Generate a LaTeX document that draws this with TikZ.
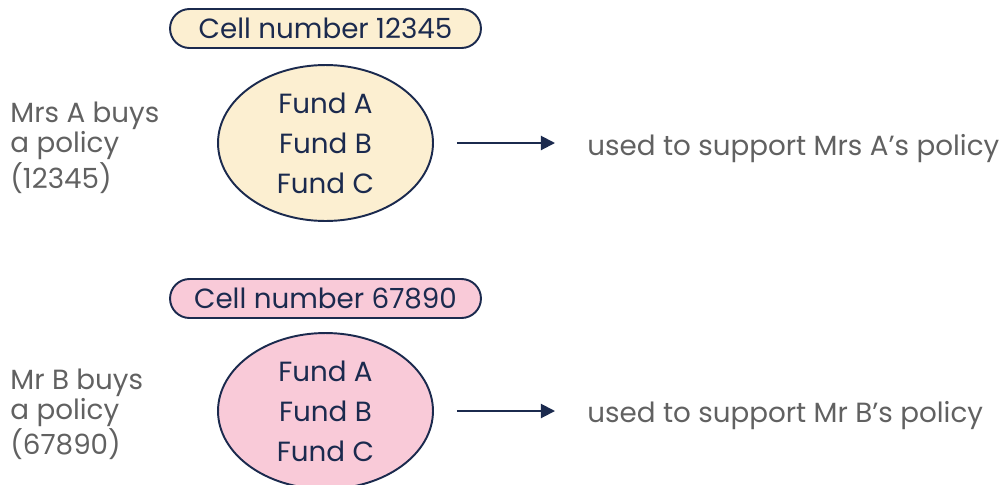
\documentclass[tikz,border=0pt]{standalone}
\usepackage{fontspec}
\setmainfont{Poppins}
\usetikzlibrary{arrows.meta,shapes.geometric}
\definecolor{navy}{HTML}{1B2A4E}
\definecolor{cream}{HTML}{FCEFD1}
\definecolor{pinkf}{HTML}{F9CAD8}
\definecolor{greytxt}{HTML}{616161}
\begin{document}
\begin{tikzpicture}[x=0.02cm,y=-0.02cm,
  txt/.style={font=\fontsize{15.8}{22.8}\selectfont, inner sep=0pt},
  pill/.style={txt, draw=navy, line width=1.1pt, rounded corners=0.39cm,
    minimum width=6.22cm, minimum height=0.78cm, text=navy},
  cell/.style={txt, ellipse, draw=navy, line width=1.1pt,
    minimum width=4.3cm, minimum height=3.12cm, align=center, text=navy},
  side/.style={txt, text=greytxt, anchor=base west},
  link/.style={draw=navy, line width=1.1pt, -{Triangle[length=8pt,width=8pt]},
    shorten <=0.46cm, shorten >=0.64cm}
]
\useasboundingbox (0,0) rectangle (1000,484);

% --- Mrs A ---
\node[pill, fill=cream] (p1) at (325.5,28.5) {Cell number 12345};
\node[cell, fill=cream] (e1) at (325.5,143) {Fund A\\Fund B\\Fund C};
\node[side] (a1) at (10,122) {Mrs A buys};
\node[side] (a2) at (10,152) {a policy};
\node[side] (a3) at (10,188) {(12345)};
\node[side] (u1) at (587,155) {used to support Mrs A’s policy};
\draw[link] (e1.east) -- (e1.east -| u1.west);

% --- Mr B ---
\node[pill, fill=pinkf] (p2) at (325.5,298.5) {Cell number 67890};
\node[cell, fill=pinkf] (e2) at (325.5,411) {Fund A\\Fund B\\Fund C};
\node[side] (b1) at (10,389) {Mr B buys};
\node[side] (b2) at (10,419) {a policy};
\node[side] (b3) at (10,454) {(67890)};
\node[side] (u2) at (587,422) {used to support Mr B’s policy};
\draw[link] (e2.east) -- (e2.east -| u2.west);
\end{tikzpicture}
\end{document}
